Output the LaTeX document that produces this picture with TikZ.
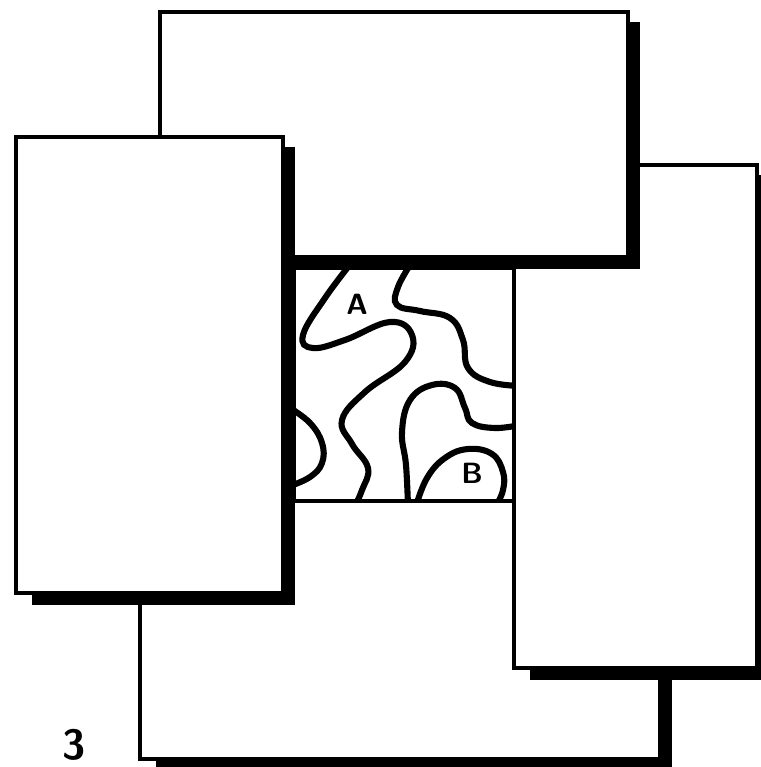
\documentclass[tikz,border=0pt]{standalone}
\usetikzlibrary{positioning}
\tikzset{
	card/.style = {
		draw, 
		fill=white, 
		line width=3.4pt, 
		line join=miter
	},
	cardshadow/.style = {
		fill=black
	},
	contour/.style = {
		line width=5.2pt, 
		line cap=round, 
		smooth, 
		tension=0.7
	},
	letter/.style = {
		font=\sffamily\bfseries\fontsize{25}{29}\selectfont, 
		inner sep=0pt
	},
	figno/.style = {
		font=\sffamily\bfseries\fontsize{36}{40}\selectfont, 
		inner sep=0pt
	}
}
% Tarjeta con sombra: esquina superior izquierda (#1,#2), inferior derecha (#3,#4)
\newcommand{\tarjeta}[4]{%
	\fill[cardshadow] (#1+16,#2+10) rectangle (#3+12,#4+12);
	\draw[card] (#1,#2) rectangle (#3,#4);
}

\begin{document}
\begin{tikzpicture}[x=0.03cm, y=-0.03cm]
		
		\useasboundingbox (0,0) rectangle (760,767);
		
		% --- Cuadro central con las curvas ---
		\coordinate (sqNW) at (294,268);
		\coordinate (sqSE) at (514,501);
		
		\begin{scope}
			\clip (sqNW) rectangle (sqSE);
			% Curva que baja desde arriba y rodea la A
			\draw[contour] plot coordinates {(352,262) (325,298) (303,335) (313,348) (345,340) (390,322) (412,335) (405,362) (365,392) (342,420) (352,444) (368,468) (362,490) (355,506)};
			% Curva superior derecha
			\draw[contour] plot coordinates {(412,262) (398,287) (397,305) (420,311) (450,318) (463,340) (468,368) (490,382) (520,386)};
			% Curva central
			\draw[contour] plot coordinates {(408,506) (406,465) (402,432) (410,400) (432,385) (455,388) (465,408) (472,423) (495,428) (520,425)};
			% Curva que rodea la B
			\draw[contour] plot coordinates {(416,506) (427,478) (445,458) (468,449) (492,454) (503,472) (503,490) (496,506)};
			% Curva pegada al borde izquierdo
			\draw[contour] plot coordinates {(290,408) (310,423) (322,443) (322,463) (310,477) (290,486)};
		\end{scope}
		\draw[line width=2.6pt] (sqNW) rectangle (sqSE);
		
		% Letras de las zonas
		\node[letter] (zoneA) at (357,304) {A};
		\node[letter] (zoneB) at (472,473) {B};
		
		% --- Tarjetas (de abajo hacia arriba) ---
		\tarjeta{140}{501}{660}{759}
		\tarjeta{514}{165}{757}{668}
		\tarjeta{160}{12}{628}{257}
		\tarjeta{16}{137}{283}{593}
		
		% Numero de la figura
		\node[figno] (fignum) at (74,745) {3};
		
	\end{tikzpicture}
\end{document}
